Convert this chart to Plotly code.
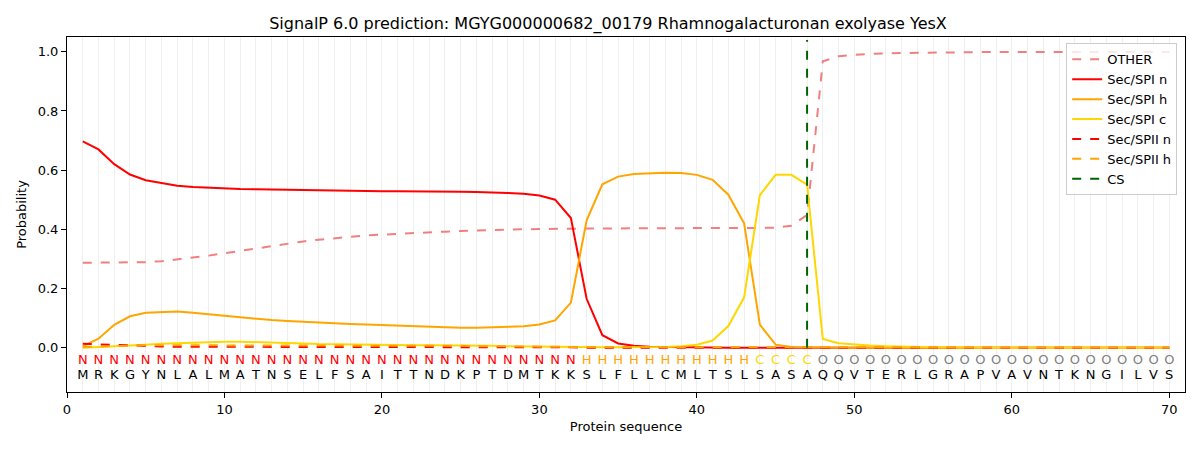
import plotly.graph_objects as go

# SignalP 6.0 per-residue probabilities
sequence = "MRKGYNLALMATNSELFSAITTNDKPTDMTKKSLFLLCMLTSLSASAQQVTERLGRAPVAVNTKNGILVS"
labels = "N" * 32 + "H" * 11 + "C" * 4 + "O" * 23
positions = list(range(1, len(sequence) + 1))
cs_position = 47

other = [
    0.287, 0.287, 0.287, 0.287, 0.289, 0.292, 0.298, 0.304, 0.311, 0.319,
    0.327, 0.335, 0.344, 0.352, 0.359, 0.365, 0.370, 0.375, 0.379, 0.382,
    0.385, 0.388, 0.390, 0.392, 0.394, 0.396, 0.398, 0.399, 0.400, 0.401,
    0.402, 0.403, 0.403, 0.403, 0.403, 0.403, 0.403, 0.403, 0.403, 0.403,
    0.403, 0.403, 0.404, 0.404, 0.405, 0.412, 0.448, 0.968, 0.985, 0.990,
    0.993, 0.995, 0.996, 0.997, 0.998, 0.998, 0.999, 0.999, 0.999, 0.999,
    0.999, 0.999, 0.999, 0.999, 0.999, 0.999, 0.999, 0.999, 0.999, 0.999,
]
sp1_n = [
    0.697, 0.670, 0.620, 0.585, 0.566, 0.556, 0.547, 0.543, 0.540, 0.538,
    0.536, 0.535, 0.534, 0.533, 0.532, 0.531, 0.531, 0.530, 0.530, 0.529,
    0.529, 0.529, 0.528, 0.528, 0.527, 0.526, 0.525, 0.523, 0.520, 0.514,
    0.500, 0.438, 0.165, 0.042, 0.014, 0.006, 0.003, 0.002, 0.001, 0.001,
    0.000, 0.000, 0.000, 0.000, 0.000, 0.000, 0.000, 0.000, 0.000, 0.000,
    0.000, 0.000, 0.000, 0.000, 0.000, 0.000, 0.000, 0.000, 0.000, 0.000,
    0.000, 0.000, 0.000, 0.000, 0.000, 0.000, 0.000, 0.000, 0.000, 0.000,
]
sp1_h = [
    0.004, 0.030, 0.077, 0.106, 0.118, 0.121, 0.122, 0.118, 0.113, 0.107,
    0.102, 0.097, 0.093, 0.090, 0.087, 0.085, 0.083, 0.080, 0.078, 0.076,
    0.073, 0.071, 0.069, 0.068, 0.067, 0.067, 0.068, 0.069, 0.072, 0.078,
    0.092, 0.152, 0.430, 0.552, 0.578, 0.587, 0.590, 0.591, 0.590, 0.584,
    0.567, 0.517, 0.420, 0.078, 0.010, 0.002, 0.001, 0.000, 0.000, 0.000,
    0.000, 0.000, 0.000, 0.000, 0.000, 0.000, 0.000, 0.000, 0.000, 0.000,
    0.000, 0.000, 0.000, 0.000, 0.000, 0.000, 0.000, 0.000, 0.000, 0.000,
]
sp1_c = [
    0.000, 0.002, 0.004, 0.007, 0.010, 0.013, 0.015, 0.017, 0.019, 0.020,
    0.020, 0.019, 0.018, 0.016, 0.014, 0.012, 0.011, 0.010, 0.009, 0.009,
    0.008, 0.008, 0.008, 0.008, 0.007, 0.007, 0.006, 0.005, 0.004, 0.003,
    0.002, 0.002, 0.001, 0.001, 0.001, 0.001, 0.001, 0.002, 0.005, 0.010,
    0.024, 0.073, 0.170, 0.515, 0.584, 0.584, 0.551, 0.029, 0.015, 0.010,
    0.007, 0.005, 0.003, 0.002, 0.001, 0.001, 0.000, 0.000, 0.000, 0.000,
    0.000, 0.000, 0.000, 0.000, 0.000, 0.000, 0.000, 0.000, 0.000, 0.000,
]
sp2_n = [
    0.013, 0.011, 0.008, 0.006, 0.005, 0.004, 0.003, 0.003, 0.002, 0.002,
    0.002, 0.002, 0.002, 0.002, 0.002, 0.002, 0.002, 0.002, 0.001, 0.001,
    0.001, 0.001, 0.001, 0.001, 0.001, 0.001, 0.001, 0.001, 0.001, 0.001,
    0.001, 0.001, 0.000, 0.000, 0.000, 0.000, 0.000, 0.000, 0.000, 0.000,
    0.000, 0.000, 0.000, 0.000, 0.000, 0.000, 0.000, 0.000, 0.000, 0.000,
    0.000, 0.000, 0.000, 0.000, 0.000, 0.000, 0.000, 0.000, 0.000, 0.000,
    0.000, 0.000, 0.000, 0.000, 0.000, 0.000, 0.000, 0.000, 0.000, 0.000,
]
sp2_h = [
    0.002, 0.004, 0.006, 0.007, 0.008, 0.008, 0.008, 0.008, 0.008, 0.008,
    0.008, 0.008, 0.008, 0.007, 0.007, 0.007, 0.007, 0.007, 0.007, 0.007,
    0.006, 0.006, 0.006, 0.006, 0.006, 0.005, 0.005, 0.004, 0.004, 0.003,
    0.003, 0.002, 0.002, 0.001, 0.001, 0.001, 0.001, 0.001, 0.001, 0.001,
    0.001, 0.001, 0.001, 0.000, 0.000, 0.000, 0.000, 0.000, 0.000, 0.000,
    0.000, 0.000, 0.000, 0.000, 0.000, 0.000, 0.000, 0.000, 0.000, 0.000,
    0.000, 0.000, 0.000, 0.000, 0.000, 0.000, 0.000, 0.000, 0.000, 0.000,
]

label_colors = {"N": "red", "H": "orange", "C": "gold", "O": "grey"}

series = [
    ("OTHER", other, "lightcoral", "dash"),
    ("Sec/SPI n", sp1_n, "red", "solid"),
    ("Sec/SPI h", sp1_h, "orange", "solid"),
    ("Sec/SPI c", sp1_c, "gold", "solid"),
    ("Sec/SPII n", sp2_n, "red", "dash"),
    ("Sec/SPII h", sp2_h, "orange", "dash"),
]

fig = go.Figure()
for name, vals, color, dash in series:
    fig.add_trace(go.Scatter(
        x=positions, y=vals, mode="lines", name=name,
        line=dict(color=color, width=2, dash=dash),
    ))

fig.add_trace(go.Scatter(
    x=[cs_position, cs_position], y=[0, 1.04], mode="lines", name="CS",
    line=dict(color="darkgreen", width=2, dash="dash"),
))

# region labels and residues under the curves
fig.add_trace(go.Scatter(
    x=positions, y=[-0.046] * len(positions), mode="text",
    text=list(labels), showlegend=False, hoverinfo="skip",
    textfont=dict(family="DejaVu Sans", size=13,
                  color=[label_colors[c] for c in labels]),
))
fig.add_trace(go.Scatter(
    x=positions, y=[-0.094] * len(positions), mode="text",
    text=list(sequence), showlegend=False, hoverinfo="skip",
    textfont=dict(family="DejaVu Sans", size=13, color="black"),
))

axis_common = dict(
    showline=True, linecolor="black", linewidth=1, mirror=True,
    ticks="outside", ticklen=5, tickcolor="black", zeroline=False,
    tickfont=dict(size=13), automargin=False,
)

fig.update_xaxes(
    range=[0, 71], tick0=0, dtick=10, showgrid=True, gridcolor="#efefef",
    minor=dict(dtick=1, showgrid=True, gridcolor="#efefef", ticks=""),
    title=dict(text="Protein sequence", font=dict(size=13), standoff=6),
    **axis_common,
)
fig.update_yaxes(
    range=[-0.15, 1.05], tick0=0, dtick=0.2, tickformat=".1f", showgrid=False,
    title=dict(text="Probability", font=dict(size=13), standoff=8),
    **axis_common,
)

# the page body adds 8px on the left and top, so margins are trimmed by that
fig.update_layout(
    width=1200, height=450,
    margin=dict(l=59, r=23, t=29, b=66),
    paper_bgcolor="white", plot_bgcolor="white",
    font=dict(family="DejaVu Sans", size=13, color="black"),
    title=dict(
        text="SignalP 6.0 prediction: MGYG000000682_00179 Rhamnogalacturonan exolyase YesX",
        x=0.5, xanchor="center", y=0.966, yanchor="middle", font=dict(size=16),
        automargin=False,
    ),
    legend=dict(
        x=0.993, y=0.982, xanchor="right", yanchor="top",
        bordercolor="#cccccc", borderwidth=1, bgcolor="rgba(255,255,255,0.8)",
        font=dict(size=13), tracegroupgap=0, itemwidth=30,
    ),
)

fig.write_html("out.html")
